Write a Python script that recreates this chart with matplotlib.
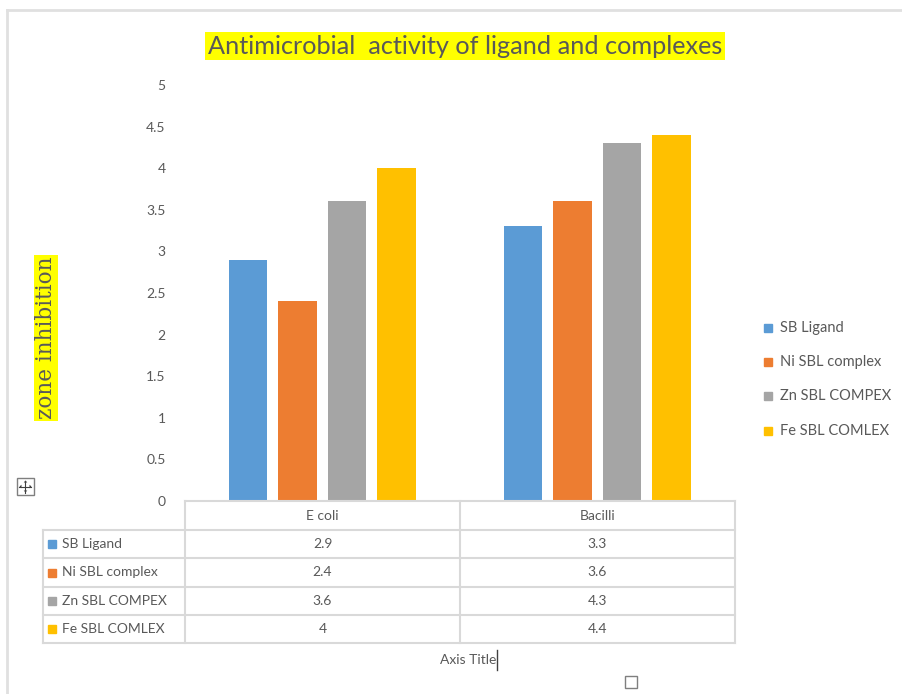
import matplotlib
matplotlib.use("Agg")
import matplotlib.pyplot as plt
from matplotlib.patches import Rectangle
import numpy as np

# ---- data ----
categories = ["E coli", "Bacilli"]
series_names = ["SB Ligand", "Ni SBL complex", "Zn SBL COMPEX", "Fe SBL COMLEX"]
sb_ligand = [2.9, 3.3]
ni_complex = [2.4, 3.6]
zn_complex = [3.6, 4.3]
fe_complex = [4.0, 4.4]
y_ticks = [0, 0.5, 1, 1.5, 2, 2.5, 3, 3.5, 4, 4.5, 5]

series_values = [sb_ligand, ni_complex, zn_complex, fe_complex]
colors = ["#5B9BD5", "#ED7D31", "#A5A5A5", "#FFC000"]

W, H = 903, 694
fig = plt.figure(figsize=(W / 100, H / 100), dpi=100)
sans = ["Lato", "DejaVu Sans"]
txt_col = "#595959"
grid_col = "#D9D9D9"

# overlay in pixel coordinates for frame, table and annotations
ov = fig.add_axes([0, 0, 1, 1])
ov.set_xlim(0, W)
ov.set_ylim(H, 0)
ov.axis("off")

def px_axes(x0, y0, x1, y1):
    return [x0 / W, 1 - y1 / H, (x1 - x0) / W, (y1 - y0) / H]

# plot area
ax = fig.add_axes(px_axes(185, 85, 735, 501))
x = np.arange(len(categories))
offsets = [-0.27, -0.09, 0.09, 0.27]
for vals, off, col, name in zip(series_values, offsets, colors, series_names):
    ax.bar(x + off, vals, width=0.14, color=col, label=name)
ax.set_xlim(-0.5, len(categories) - 0.5)
ax.set_ylim(0, 5)
ax.set_yticks(y_ticks)
ax.set_yticklabels([f"{t:g}" for t in y_ticks], fontsize=10, color=txt_col,
                   family=sans)
ax.tick_params(axis="y", length=0, pad=14)
ax.set_xticks([])
for s in ["top", "right", "left"]:
    ax.spines[s].set_visible(False)
ax.spines["bottom"].set_color(grid_col)
ax.spines["bottom"].set_linewidth(1.5)
ax.patch.set_alpha(0)

# outer frame
ov.plot([7, 7], [10, H], color="#E0E0E0", lw=2)
ov.plot([7, W], [10, 10], color="#E0E0E0", lw=2)

# title
ov.text(465, 46, "Antimicrobial  activity of ligand and complexes", ha="center",
        va="center", fontsize=18.2, color=txt_col, family=sans,
        bbox=dict(facecolor="#FFFF00", edgecolor="none", pad=2))

# y axis title
ov.text(46, 338, "zone inhibition", rotation=90, ha="center", va="center",
        fontsize=15.5, color=txt_col, family=["DejaVu Serif"],
        bbox=dict(facecolor="#FFFF00", edgecolor="none", pad=1))

# data table
col_x = [185, 460, 735]
row_y = [501, 530, 558, 587, 615, 643]
lw = 1.5
for cx in col_x:
    ov.plot([cx, cx], [row_y[0], row_y[-1]], color=grid_col, lw=lw)
ov.plot([43, 43], [row_y[1], row_y[-1]], color=grid_col, lw=lw)
for ry in row_y[1:]:
    ov.plot([43, 735], [ry, ry], color=grid_col, lw=lw)
for i, cat in enumerate(categories):
    cx = (col_x[i] + col_x[i + 1]) / 2
    ov.text(cx, (row_y[0] + row_y[1]) / 2, cat, ha="center", va="center",
            fontsize=10, color=txt_col, family=sans)
for r, (name, vals, col) in enumerate(zip(series_names, series_values, colors)):
    cy = (row_y[r + 1] + row_y[r + 2]) / 2
    ov.add_patch(Rectangle((48, cy - 4), 8, 8, color=col))
    ov.text(62, cy, name, ha="left", va="center", fontsize=10, color=txt_col,
            family=sans)
    for i, v in enumerate(vals):
        cx = (col_x[i] + col_x[i + 1]) / 2
        ov.text(cx, cy, f"{v:g}", ha="center", va="center", fontsize=10,
                color=txt_col, family=sans)

# x axis title with text cursor
ov.text(496, 660, "Axis Title", ha="right", va="center", fontsize=10,
        color=txt_col, family=sans)
ov.plot([497, 497], [650, 670], color="#404040", lw=1)
ov.add_patch(Rectangle((625, 676), 12, 12, fill=False, edgecolor="#7F7F7F", lw=1))

# move handle icon: box with four-way arrow
ov.add_patch(Rectangle((17, 478), 17, 17, fill=False, edgecolor="#7F7F7F", lw=1))
cxm, cym = 25.5, 486.5
ov.plot([cxm - 6, cxm + 6], [cym, cym], color="#404040", lw=0.8)
ov.plot([cxm, cxm], [cym - 6, cym + 6], color="#404040", lw=0.8)
for dx, dy in [(1, 0), (-1, 0), (0, 1), (0, -1)]:
    tip = (cxm + 6 * dx, cym + 6 * dy)
    base1 = (cxm + 4 * dx + 1.8 * dy, cym + 4 * dy + 1.8 * dx)
    base2 = (cxm + 4 * dx - 1.8 * dy, cym + 4 * dy - 1.8 * dx)
    ov.fill([tip[0], base1[0], base2[0]], [tip[1], base1[1], base2[1]],
            color="#404040", lw=0)

# legend
legend_y = [328, 362, 396, 431]
for name, col, ly in zip(series_names, colors, legend_y):
    ov.add_patch(Rectangle((764, ly - 4), 8, 8, color=col))
    ov.text(780, ly, name, ha="left", va="center", fontsize=10.5, color=txt_col,
            family=sans)

fig.savefig("out.png", dpi=100)
